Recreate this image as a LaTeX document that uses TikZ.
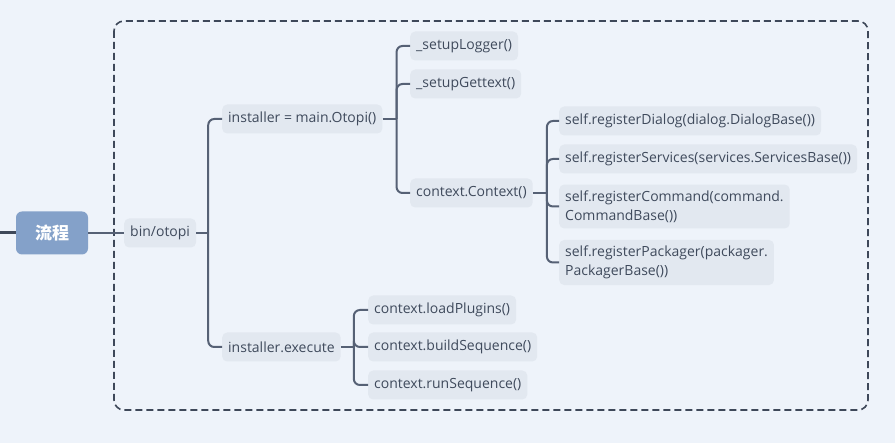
\documentclass[tikz,border=0pt]{standalone}
\usepackage{fontspec}
\setmainfont{Open Sans}
\newfontfamily\cjkfont{Noto Sans CJK SC}
\definecolor{bgc}{HTML}{EEF3FA}
\definecolor{nodefill}{HTML}{E2E8F0}
\definecolor{rootfill}{HTML}{84A1C9}
\definecolor{linec}{HTML}{566175}
\definecolor{framec}{HTML}{3E4859}
\definecolor{textc}{HTML}{3F4A5C}
\begin{document}
\begin{tikzpicture}[x=1pt,y=-1pt,
  item/.style={fill=nodefill, rounded corners=5pt, anchor=west, minimum height=29pt,
    inner xsep=6pt, inner ysep=6pt, text=textc, font=\fontsize{14}{19}\selectfont, align=left},
  conn/.style={draw=linec, line width=2pt, rounded corners=6pt},
  rootbox/.style={fill=rootfill, rounded corners=6pt, minimum width=72pt, minimum height=43pt,
    text=white, font=\cjkfont\bfseries\fontsize{17}{20}\selectfont},
  frame/.style={draw=framec, line width=1.6pt, dash pattern=on 7pt off 4pt, rounded corners=10pt}]
\fill[bgc] (0,0) rectangle (895,443);
\useasboundingbox (0,0) rectangle (895,443);
\draw[frame] (114,21) rectangle (868,410);

\node[rootbox] (root) at (52,233) {流程};
\coordinate (lft) at (0,233);
\draw[draw=framec, line width=3pt] (lft) -- (root.west);

\node[item] (bin) at (124,233) {bin/otopi};
\draw[conn] (root.east) -- (bin.west);

\node[item] (inst) at (222,119) {installer = main.Otopi()};
\node[item] (exec) at (222,347) {installer.execute};
\draw[conn] (bin.east) -- ++(12,0) coordinate (j1);
\draw[conn] (j1) |- (inst.west);
\draw[conn] (j1) |- (exec.west);

\node[item] (log) at (410,46) {\_setupLogger()};
\node[item] (gett) at (410,84) {\_setupGettext()};
\node[item] (ctx) at (410,193) {context.Context()};
\draw[conn] (inst.east) -- ++(14,0) coordinate (j2);
\draw[conn] (j2) |- (log.west);
\draw[conn] (j2) |- (gett.west);
\draw[conn] (j2) |- (ctx.west);

\node[item] (dlg) at (559,121) {self.registerDialog(dialog.DialogBase())};
\node[item] (srv) at (559,159) {self.registerServices(services.ServicesBase())};
\node[item] (cmd) at (559,206.5) {self.registerCommand(command.\\CommandBase())};
\node[item] (pkg) at (559,262.5) {self.registerPackager(packager.\\PackagerBase())};
\draw[conn] (ctx.east) -- ++(14,0) coordinate (j3);
\draw[conn] (j3) |- (dlg.west);
\draw[conn] (j3) |- (srv.west);
\draw[conn] (j3) |- (cmd.west);
\draw[conn] (j3) |- (pkg.west);

\node[item] (load) at (368,310) {context.loadPlugins()};
\node[item] (build) at (368,347) {context.buildSequence()};
\node[item] (run) at (368,385) {context.runSequence()};
\draw[conn] (exec.east) -- ++(13,0) coordinate (j4);
\draw[conn] (j4) |- (load.west);
\draw[conn] (j4) |- (build.west);
\draw[conn] (j4) |- (run.west);
\end{tikzpicture}
\end{document}
